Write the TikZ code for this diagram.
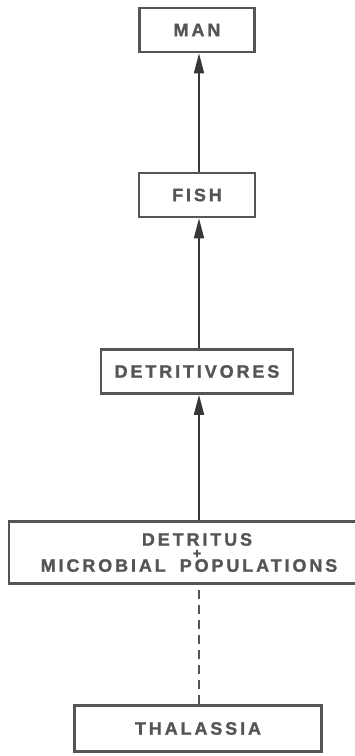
\documentclass[tikz,border=0pt]{standalone}
\usepackage{fontspec}
\newfontfamily\levelfont[LetterSpace=16, FakeBold=1.3]{Liberation Sans Bold}
\usetikzlibrary{arrows.meta}
\definecolor{inkgray}{RGB}{85,85,85}
\definecolor{linegray}{RGB}{55,55,55}

\begin{document}
\begin{tikzpicture}[x=1pt, y=1pt,
    every node/.style={font=\levelfont\fontsize{18}{12.5}\selectfont, text=inkgray},
    level/.style={draw=inkgray, line width=2.6pt, inner sep=0pt, minimum height=44pt},
    feeds/.style={draw=linegray, line width=1.6pt, -{Triangle[length=20pt, width=10pt]}},
    leaks/.style={draw=inkgray, line width=1.8pt, dash pattern=on 9pt off 6pt}]
  \useasboundingbox (0,0) rectangle (354,-756);
  % trophic levels
  \node[level, minimum width=115pt] (man) at (197,-30) {MAN};
  \node[level, minimum width=116pt] (fish) at (197,-195) {FISH};
  \node[level, minimum width=192pt] (detv) at (197,-371.5) {DETRITIVORES};
  \node[level, minimum width=376pt, minimum height=62pt, align=center] (detr) at (197,-552.5)
    {DETRITUS\\{\fontsize{14}{12.5}\selectfont+}\\MICROBIAL\hspace{14pt}POPULATIONS\hspace*{16pt}};
  \node[level, minimum width=247pt, minimum height=46pt] (thal) at (198,-728.5) {THALASSIA};
  % energy flow
  \draw[leaks] (thal.north -| 199,0) -- (detr.south -| 199,0);
  \draw[feeds] (detr.north -| 199,0) -- (detv.south -| 199,0);
  \draw[feeds] (detv.north -| 199,0) -- (fish.south -| 199,0);
  \draw[feeds] (fish.north -| 199,0) -- (man.south -| 199,0);
\end{tikzpicture}
\end{document}
